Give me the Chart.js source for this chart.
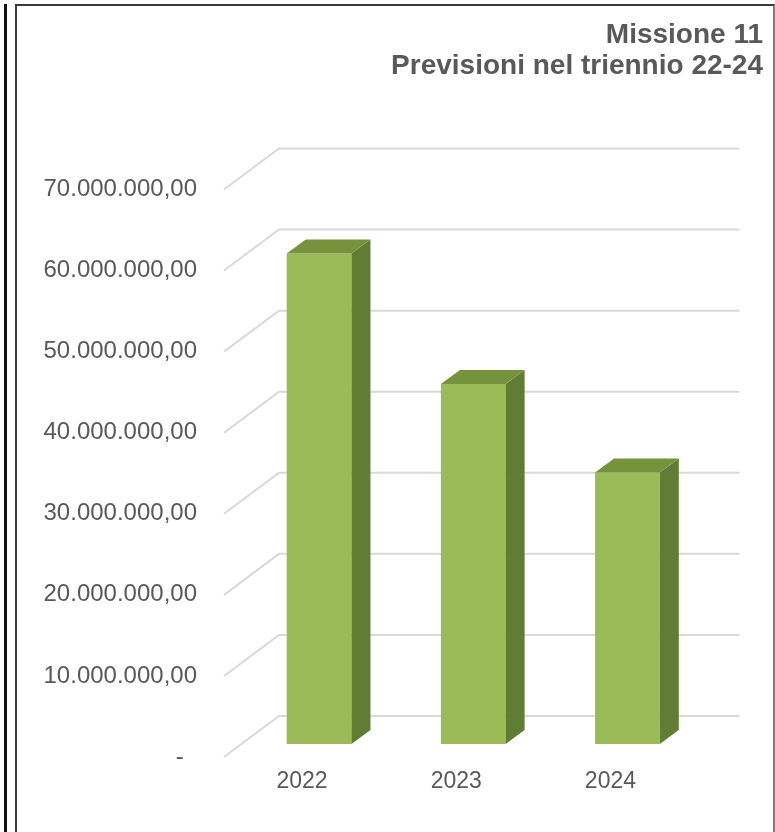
<!DOCTYPE html>
<html>
<head>
<meta charset="utf-8">
<script src="https://cdn.jsdelivr.net/npm/chart.js@4.4.1/dist/chart.umd.min.js"></script>
<style>
  html, body { margin: 0; padding: 0; background: #fff; }
  #wrap { position: relative; width: 775px; height: 832px; overflow: hidden; }
  #chart { position: absolute; left: 0; top: 0; }
  .edge { position: absolute; left: 4px; top: 4px; height: 900px; border-left: 3px solid #111; }
  .frame { position: absolute; left: 15px; top: 4px; width: 756px; height: 900px;
           border: 2px solid #3a3a3a; border-right-color: #7f7f7f; border-bottom: none; }
</style>
</head>
<body>
<div id="wrap">
  <canvas id="chart" width="775" height="832"></canvas>
  <div class="edge"></div>
  <div class="frame"></div>
</div>
<script>
  // ===== Data =====
  const years = ["2022", "2023", "2024"];
  const previsioni = [60500000, 44400000, 33500000];
  const yMin = 0;
  const yMax = 70000000;
  const yStep = 10000000;
  const titleLines = ["Missione 11", "Previsioni nel triennio 22-24"];

  // ===== 3D look =====
  const BAR_DX = 19, BAR_DY = 14;      // bar side / top depth
  const WALL_DX = 54, WALL_DY = 41;    // side wall depth
  const SHIFT_X = 17, SHIFT_Y = -13;   // bars sit in the middle of the floor
  const TEXT = "#595959";

  Chart.defaults.font.family = "'Liberation Sans', Arial, sans-serif";

  // Italian accounting style: 70.000.000,00 and "-" for zero
  function formatIt(v) {
    if (v === 0) return "-  ";
    return Math.round(v).toString().replace(/\B(?=(\d{3})+(?!\d))/g, ".") + ",00";
  }

  const depthPlugin = {
    id: "depth3d",
    beforeDatasetsDraw(chart) {
      const { ctx, chartArea, scales } = chart;
      const y = scales.y;
      ctx.save();
      ctx.strokeStyle = "#d9d9d9";
      ctx.lineWidth = 2;
      y.ticks.forEach((t) => {
        const py = y.getPixelForValue(t.value);
        ctx.beginPath();
        ctx.moveTo(chartArea.left - 1, py);
        ctx.lineTo(chartArea.left + WALL_DX, py - WALL_DY);
        ctx.lineTo(chartArea.right + 52, py - WALL_DY);
        ctx.stroke();
      });
      ctx.restore();
      // bars drawn a bit deeper into the box
      ctx.save();
      ctx.translate(SHIFT_X, SHIFT_Y);
    },
    afterDatasetsDraw(chart) {
      const { ctx } = chart;
      chart.getDatasetMeta(0).data.forEach((bar) => {
        const { x, y, base, width } = bar.getProps(["x", "y", "base", "width"], true);
        const l = x - width / 2, r = x + width / 2;
        // side face
        ctx.fillStyle = "#617d35";
        ctx.beginPath();
        ctx.moveTo(r, y);
        ctx.lineTo(r + BAR_DX, y - BAR_DY);
        ctx.lineTo(r + BAR_DX, base - BAR_DY);
        ctx.lineTo(r, base);
        ctx.closePath();
        ctx.fill();
        // top face
        ctx.fillStyle = "#76923c";
        ctx.beginPath();
        ctx.moveTo(l, y);
        ctx.lineTo(l + BAR_DX, y - BAR_DY);
        ctx.lineTo(r + BAR_DX, y - BAR_DY);
        ctx.lineTo(r, y);
        ctx.closePath();
        ctx.fill();
      });
      ctx.restore();
    }
  };

  const ctx = document.getElementById("chart").getContext("2d");

  new Chart(ctx, {
    type: "bar",
    data: {
      labels: years,
      datasets: [{
        data: previsioni,
        backgroundColor: "#9bbb59",
        borderWidth: 0,
        categoryPercentage: 1,
        barPercentage: 0.42
      }]
    },
    options: {
      responsive: false,
      animation: false,
      layout: { padding: { top: 0, right: 12, bottom: 15, left: 0 } },
      plugins: {
        legend: { display: false },
        tooltip: { enabled: false },
        title: {
          display: true,
          text: titleLines,
          align: "end",
          color: TEXT,
          font: { size: 28, weight: "bold", lineHeight: 1.1 },
          padding: { top: 19.6, bottom: 108.3 }
        }
      },
      scales: {
        x: {
          grid: { display: false },
          border: { display: false },
          ticks: { color: TEXT, font: { size: 23 }, padding: 3 },
          afterFit: (s) => { s.height = 60; }
        },
        y: {
          min: yMin,
          max: yMax,
          grid: { display: false, drawTicks: false },
          border: { display: false },
          ticks: {
            stepSize: yStep,
            color: TEXT,
            font: { size: 24 },
            padding: 28,
            callback: (v) => formatIt(v)
          },
          afterFit: (s) => { s.width = 225; }
        },
        y2: {
          position: "right",
          display: true,
          grid: { display: false },
          border: { display: false },
          ticks: { display: false },
          afterFit: (s) => { s.width = 75.5; }
        }
      }
    },
    plugins: [depthPlugin]
  });
</script>
</body>
</html>
